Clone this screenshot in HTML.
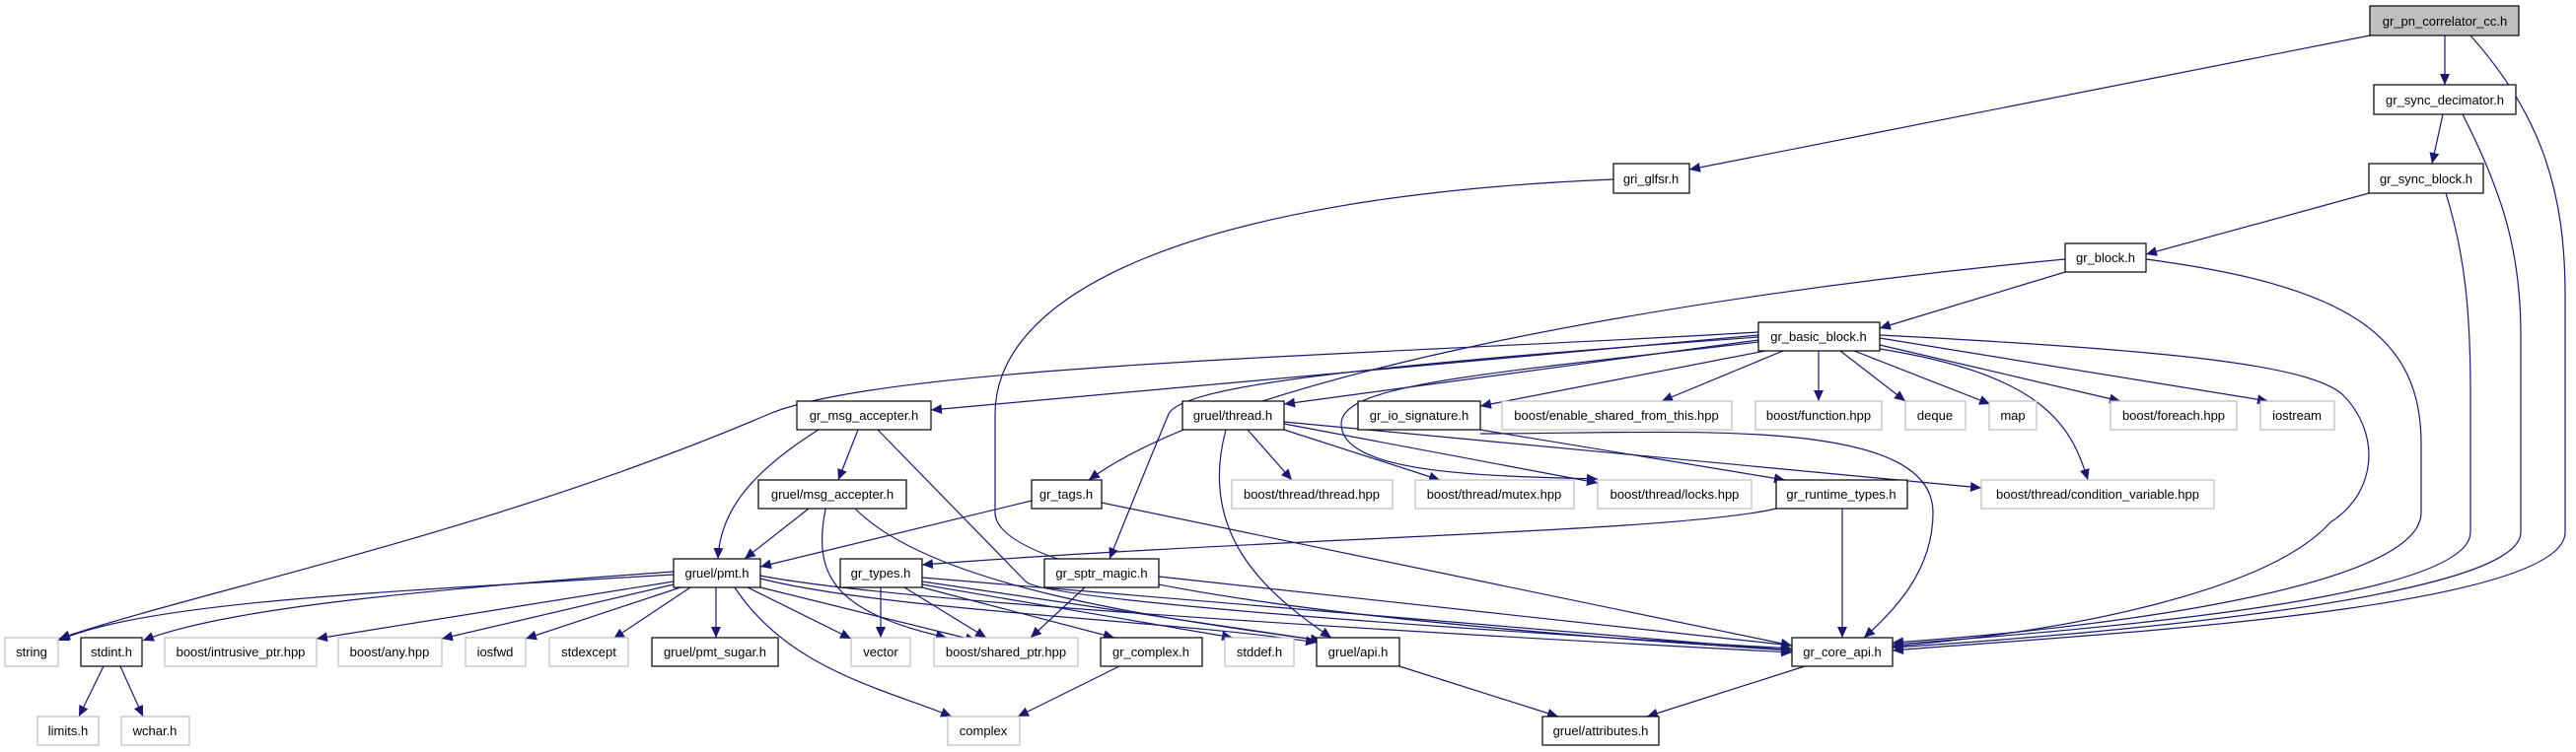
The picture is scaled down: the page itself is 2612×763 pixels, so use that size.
<!DOCTYPE html>
<html><head><meta charset="utf-8"><style>
html,body{margin:0;padding:0;background:#fff;}
svg{display:block;}
text{font-family:"Liberation Sans",Arial,sans-serif;font-size:13px;fill:#000;text-anchor:middle;}
.e{fill:none;stroke:#191970;stroke-width:1.2;marker-end:url(#a);}
.g{fill:#fff;stroke:#bfbfbf;stroke-width:1.2;}
.b{fill:#fff;stroke:#000;stroke-width:1.2;}
.r{fill:#bfbfbf;stroke:#000;stroke-width:1.2;}
</style></head><body>
<svg width="2612" height="763" viewBox="0 0 2612 763" xmlns="http://www.w3.org/2000/svg">
<defs><marker id="a" markerUnits="userSpaceOnUse" markerWidth="12" markerHeight="10" refX="11" refY="5" orient="auto"><path d="M0,0 L11,5 L0,10 Z" fill="#191970"/></marker></defs>
<g>
<path class="e" d="M2479,36 L2479,86"/>
<path class="e" d="M2403,36 L1713,172"/>
<path class="e" d="M2505,36 C2580,120 2601,200 2601,300 L2601,540 C2601,620 2100,645 1919,660"/>
<path class="e" d="M2477,116 L2466,166"/>
<path class="e" d="M2497,116 C2540,200 2556,260 2556,340 L2556,540 C2556,610 2100,645 1919,657"/>
<path class="e" d="M2402,196 L2176,258"/>
<path class="e" d="M2480,196 C2500,260 2505,320 2505,400 L2505,540 C2505,610 2100,640 1919,654"/>
<path class="e" d="M1636,182 C1200,200 1009,300 1009,420 L1009,520 C1009,600 1500,640 1817,660"/>
<path class="e" d="M2094,276 L1906,333"/>
<path class="e" d="M2094,263 C1700,300 1250,380 1104,487"/>
<path class="e" d="M2176,263 C2380,290 2455,340 2455,450 L2455,520 C2455,600 2100,640 1919,652"/>
<path class="e" d="M1783,337 C1400,360 900,370 780,420 C500,540 200,600 60,648"/>
<path class="e" d="M1783,340 L944,416"/>
<path class="e" d="M1783,345 L1302,410"/>
<path class="e" d="M1790,356 L1501,412"/>
<path class="e" d="M1808,356 L1685,407"/>
<path class="e" d="M1844,356 L1844,407"/>
<path class="e" d="M1866,356 L1932,407"/>
<path class="e" d="M1880,356 L2018,410"/>
<path class="e" d="M1906,350 L2150,407"/>
<path class="e" d="M1906,343 L2300,407"/>
<path class="e" d="M1906,354 C2070,380 2100,430 2117,487"/>
<path class="e" d="M1906,340 C2200,355 2340,370 2375,400 C2415,440 2410,500 2363,530 C2300,600 2100,640 1919,656"/>
<path class="e" d="M1783,347 C1500,380 1360,390 1360,430 C1360,480 1500,483 1620,486"/>
<path class="e" d="M1783,342 C1400,370 1200,390 1185,420 C1160,480 1140,530 1125,567"/>
<path class="e" d="M830,436 C760,480 730,520 728,567"/>
<path class="e" d="M870,436 L850,487"/>
<path class="e" d="M890,436 L1040,590 C1060,610 1500,640 1817,658"/>
<path class="e" d="M820,516 L755,567"/>
<path class="e" d="M837,516 C825,580 840,620 960,647"/>
<path class="e" d="M867,516 C950,600 1200,630 1340,650"/>
<path class="e" d="M1046,508 L771,575"/>
<path class="e" d="M1117,510 L1817,655"/>
<path class="e" d="M1265,436 L1310,487"/>
<path class="e" d="M1302,436 L1460,487"/>
<path class="e" d="M1302,430 L1620,490"/>
<path class="e" d="M1302,428 L2009,495"/>
<path class="e" d="M1243,436 C1215,540 1280,600 1350,647"/>
<path class="e" d="M1501,436 L1810,487"/>
<path class="e" d="M1501,440 C1700,440 1960,420 1960,520 C1960,580 1920,620 1890,647"/>
<path class="e" d="M1801,516 C1700,540 1300,545 935,573"/>
<path class="e" d="M1868,516 L1868,647"/>
<path class="e" d="M683,583 C400,600 150,610 59,650"/>
<path class="e" d="M683,580 C400,600 220,620 145,650"/>
<path class="e" d="M683,590 L321,648"/>
<path class="e" d="M683,593 L448,648"/>
<path class="e" d="M690,596 L533,648"/>
<path class="e" d="M700,596 L622,648"/>
<path class="e" d="M726,596 L726,647"/>
<path class="e" d="M758,596 L863,648"/>
<path class="e" d="M771,596 L990,650"/>
<path class="e" d="M745,596 C800,680 900,700 965,727"/>
<path class="e" d="M771,587 C900,620 1200,630 1335,652"/>
<path class="e" d="M771,584 C900,610 1400,640 1817,662"/>
<path class="e" d="M893,596 L893,647"/>
<path class="e" d="M917,596 L1000,647"/>
<path class="e" d="M935,596 L1130,647"/>
<path class="e" d="M935,593 L1250,647"/>
<path class="e" d="M935,590 L1340,650"/>
<path class="e" d="M935,586 L1817,660"/>
<path class="e" d="M1100,596 L1045,647"/>
<path class="e" d="M1175,585 L1817,655"/>
<path class="e" d="M1135,676 L1032,727"/>
<path class="e" d="M105,676 L80,727"/>
<path class="e" d="M122,676 L145,727"/>
<path class="e" d="M1419,676 L1580,727"/>
<path class="e" d="M1830,676 L1670,727"/>
</g>
<g>
<rect class="r" x="2403" y="6" width="151" height="30"/><text x="2479" y="26">gr_pn_correlator_cc.h</text>
<rect class="b" x="2407" y="86" width="144" height="30"/><text x="2479" y="106">gr_sync_decimator.h</text>
<rect class="b" x="1636" y="166" width="77" height="30"/><text x="1674" y="186">gri_glfsr.h</text>
<rect class="b" x="2402" y="166" width="116" height="30"/><text x="2460" y="186">gr_sync_block.h</text>
<rect class="b" x="2094" y="247" width="82" height="29"/><text x="2135" y="266">gr_block.h</text>
<rect class="b" x="1783" y="327" width="123" height="29"/><text x="1844" y="346">gr_basic_block.h</text>

<rect class="b" x="808" y="407" width="136" height="29"/><text x="876" y="426">gr_msg_accepter.h</text>
<rect class="b" x="1199" y="407" width="103" height="29"/><text x="1250" y="426">gruel/thread.h</text>
<rect class="b" x="1377" y="407" width="124" height="29"/><text x="1439" y="426">gr_io_signature.h</text>
<rect class="g" x="1523" y="407" width="233" height="29"/><text x="1639" y="426">boost/enable_shared_from_this.hpp</text>
<rect class="g" x="1780" y="407" width="128" height="29"/><text x="1844" y="426">boost/function.hpp</text>
<rect class="g" x="1932" y="407" width="61" height="29"/><text x="1962" y="426">deque</text>
<rect class="g" x="2017" y="407" width="48" height="29"/><text x="2041" y="426">map</text>
<rect class="g" x="2140" y="407" width="128" height="29"/><text x="2204" y="426">boost/foreach.hpp</text>
<rect class="g" x="2292" y="407" width="75" height="29"/><text x="2329" y="426">iostream</text>

<rect class="b" x="769" y="487" width="150" height="29"/><text x="844" y="506">gruel/msg_accepter.h</text>
<rect class="b" x="1046" y="487" width="71" height="29"/><text x="1081" y="506">gr_tags.h</text>
<rect class="g" x="1249" y="487" width="163" height="29"/><text x="1330" y="506">boost/thread/thread.hpp</text>
<rect class="g" x="1435" y="487" width="161" height="29"/><text x="1515" y="506">boost/thread/mutex.hpp</text>
<rect class="g" x="1620" y="487" width="156" height="29"/><text x="1698" y="506">boost/thread/locks.hpp</text>
<rect class="b" x="1801" y="487" width="133" height="29"/><text x="1867" y="506">gr_runtime_types.h</text>
<rect class="g" x="2009" y="487" width="236" height="29"/><text x="2127" y="506">boost/thread/condition_variable.hpp</text>

<rect class="b" x="683" y="567" width="88" height="29"/><text x="727" y="586">gruel/pmt.h</text>
<rect class="b" x="852" y="567" width="83" height="29"/><text x="893" y="586">gr_types.h</text>
<rect class="b" x="1059" y="567" width="116" height="29"/><text x="1117" y="586">gr_sptr_magic.h</text>

<rect class="g" x="5" y="647" width="54" height="29"/><text x="32" y="666">string</text>
<rect class="b" x="82" y="647" width="62" height="29"/><text x="113" y="666">stdint.h</text>
<rect class="g" x="167" y="647" width="154" height="29"/><text x="244" y="666">boost/intrusive_ptr.hpp</text>
<rect class="g" x="343" y="647" width="105" height="29"/><text x="395" y="666">boost/any.hpp</text>
<rect class="g" x="472" y="647" width="61" height="29"/><text x="502" y="666">iosfwd</text>
<rect class="g" x="557" y="647" width="80" height="29"/><text x="597" y="666">stdexcept</text>
<rect class="b" x="661" y="647" width="128" height="29"/><text x="725" y="666">gruel/pmt_sugar.h</text>
<rect class="g" x="863" y="647" width="60" height="29"/><text x="893" y="666">vector</text>
<rect class="g" x="947" y="647" width="146" height="29"/><text x="1020" y="666">boost/shared_ptr.hpp</text>
<rect class="b" x="1116" y="647" width="103" height="29"/><text x="1167" y="666">gr_complex.h</text>
<rect class="g" x="1242" y="647" width="70" height="29"/><text x="1277" y="666">stddef.h</text>
<rect class="b" x="1335" y="647" width="84" height="29"/><text x="1377" y="666">gruel/api.h</text>
<rect class="b" x="1817" y="647" width="102" height="29"/><text x="1868" y="666">gr_core_api.h</text>

<rect class="g" x="38" y="727" width="62" height="29"/><text x="69" y="746">limits.h</text>
<rect class="g" x="123" y="727" width="69" height="29"/><text x="157" y="746">wchar.h</text>
<rect class="g" x="961" y="727" width="73" height="29"/><text x="997" y="746">complex</text>
<rect class="b" x="1564" y="727" width="118" height="29"/><text x="1623" y="746">gruel/attributes.h</text>
</g>
</svg>
</body></html>
